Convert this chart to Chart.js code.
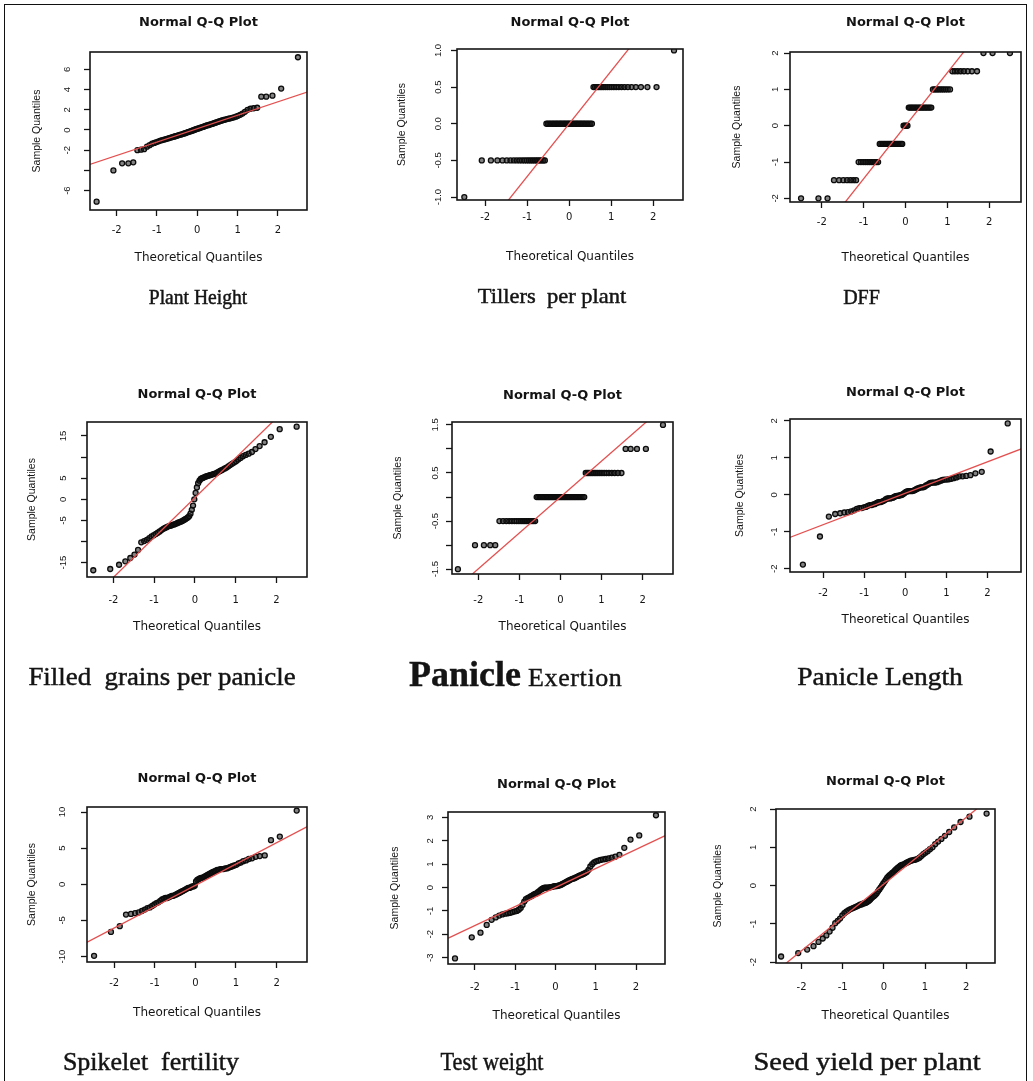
<!DOCTYPE html>
<html><head><meta charset="utf-8">
<script src="https://cdn.jsdelivr.net/npm/chart.js@4.4.1/dist/chart.umd.min.js"></script>
<style>
html,body{margin:0;padding:0;background:#fff;}
#page{position:relative;width:1033px;height:1081px;overflow:hidden;background:#fff;}
#page canvas{position:absolute;left:0;top:0;}
.frame{position:absolute;left:4px;top:4px;width:1021px;height:1200px;border:1.5px solid #111;border-bottom:none;}
.cap{position:absolute;font-family:'Liberation Serif','Times New Roman',serif;color:#141414;white-space:pre;transform-origin:50% 50%;-webkit-text-stroke:0.45px #141414;}
.capx{position:absolute;font-family:'Liberation Serif','Times New Roman',serif;color:#141414;white-space:pre;line-height:36px;-webkit-text-stroke:0.4px #141414;}
</style></head>
<body><div id="page"><div class="frame"></div></div>
<script>
// ---------- data ----------
const theoreticalQuantiles = [-2.496,-2.080,-1.863,-1.709,-1.587,-1.485,-1.397,-1.318,-1.247,-1.181,-1.120,-1.064,-1.010,-0.959,-0.911,-0.865,-0.820,-0.776,-0.735,-0.694,-0.655,-0.616,-0.579,-0.542,-0.506,-0.471,-0.436,-0.402,-0.368,-0.335,-0.302,-0.270,-0.237,-0.205,-0.174,-0.142,-0.110,-0.078,-0.047,-0.016,0.016,0.047,0.078,0.110,0.142,0.174,0.205,0.237,0.270,0.302,0.335,0.368,0.402,0.436,0.471,0.506,0.542,0.579,0.616,0.655,0.694,0.735,0.776,0.820,0.865,0.911,0.959,1.010,1.064,1.120,1.181,1.247,1.318,1.397,1.485,1.587,1.709,1.863,2.080,2.496];

const plantHeight = [-7.1,-4.0,-3.3,-3.3,-3.2,-2.0,-1.95,-1.9,-1.65,-1.5,-1.35,-1.28,-1.2,-1.12,-1.05,-1.0,-0.95,-0.9,-0.85,-0.8,-0.75,-0.7,-0.66,-0.62,-0.58,-0.53,-0.48,-0.45,-0.4,-0.36,-0.32,-0.28,-0.22,-0.18,-0.13,-0.1,-0.05,0.0,0.05,0.1,0.13,0.18,0.22,0.26,0.3,0.35,0.4,0.45,0.48,0.52,0.56,0.6,0.65,0.7,0.75,0.8,0.85,0.9,0.95,1.0,1.03,1.08,1.12,1.15,1.2,1.25,1.32,1.4,1.5,1.62,1.8,2.0,2.1,2.15,2.2,3.3,3.3,3.4,4.1,7.2];

const tillersPerPlant = [-1.0,-0.5,-0.5,-0.5,-0.5,-0.5,-0.5,-0.5,-0.5,-0.5,-0.5,-0.5,-0.5,-0.5,-0.5,-0.5,-0.5,-0.5,-0.5,-0.5,-0.5,-0.5,-0.5,0,0,0,0,0,0,0,0,0,0,0,0,0,0,0,0,0,0,0,0,0,0,0,0,0,0,0,0,0,0,0,0,0,0,0.5,0.5,0.5,0.5,0.5,0.5,0.5,0.5,0.5,0.5,0.5,0.5,0.5,0.5,0.5,0.5,0.5,0.5,0.5,0.5,0.5,0.5,1.0];

const daysToFlowering = [-2,-2,-2,-1.5,-1.5,-1.5,-1.5,-1.5,-1.5,-1.5,-1,-1,-1,-1,-1,-1,-1,-1,-1,-1,-1,-0.5,-0.5,-0.5,-0.5,-0.5,-0.5,-0.5,-0.5,-0.5,-0.5,-0.5,-0.5,-0.5,-0.5,-0.5,-0.5,-0.5,0,0,0,0,0.5,0.5,0.5,0.5,0.5,0.5,0.5,0.5,0.5,0.5,0.5,0.5,0.5,0.5,0.5,0.5,0.5,1,1,1,1,1,1,1,1,1,1,1.5,1.5,1.5,1.5,1.5,1.5,1.5,1.5,2,2,2];

const filledGrains = [-16.8,-16.5,-15.5,-14.7,-13.9,-13.1,-12.0,-10.2,-9.9,-9.6,-9.2,-8.8,-8.5,-8.2,-7.9,-7.6,-7.3,-7.0,-6.8,-6.6,-6.4,-6.3,-6.2,-6.05,-5.95,-5.8,-5.65,-5.5,-5.4,-5.25,-5.1,-4.9,-4.7,-4.5,-4.3,-4.0,-3.4,-2.5,-1.5,0.0,1.5,2.8,3.8,4.4,4.8,5.0,5.1,5.25,5.4,5.5,5.6,5.7,5.8,5.9,6.0,6.1,6.3,6.5,6.7,6.9,7.1,7.3,7.5,7.8,8.1,8.4,8.7,9.0,9.4,9.8,10.2,10.5,10.8,11.2,11.9,12.6,13.5,14.8,16.6,17.2];

const panicleExertion = [-1.5,-1,-1,-1,-1,-0.5,-0.5,-0.5,-0.5,-0.5,-0.5,-0.5,-0.5,-0.5,-0.5,-0.5,-0.5,-0.5,-0.5,-0.5,-0.5,-0.5,0,0,0,0,0,0,0,0,0,0,0,0,0,0,0,0,0,0,0,0,0,0,0,0,0,0,0,0,0,0,0,0,0,0,0,0,0.5,0.5,0.5,0.5,0.5,0.5,0.5,0.5,0.5,0.5,0.5,0.5,0.5,0.5,0.5,0.5,0.5,1,1,1,1,1.5];

const panicleLength = [-1.89,-1.13,-0.59,-0.52,-0.5,-0.48,-0.47,-0.45,-0.42,-0.38,-0.36,-0.36,-0.34,-0.33,-0.3,-0.28,-0.28,-0.26,-0.25,-0.22,-0.2,-0.2,-0.19,-0.17,-0.15,-0.12,-0.1,-0.1,-0.1,-0.09,-0.08,-0.06,-0.04,-0.03,-0.03,-0.02,-0.01,0.0,0.02,0.05,0.08,0.09,0.1,0.1,0.1,0.1,0.11,0.13,0.15,0.17,0.18,0.2,0.2,0.2,0.22,0.25,0.27,0.3,0.32,0.33,0.33,0.33,0.34,0.36,0.38,0.4,0.41,0.41,0.42,0.43,0.45,0.47,0.5,0.5,0.51,0.53,0.58,0.62,1.17,1.93];

const spikeletFertility = [-9.9,-6.6,-5.8,-4.2,-4.1,-4.0,-3.9,-3.7,-3.5,-3.3,-3.2,-3.0,-2.8,-2.6,-2.5,-2.3,-2.1,-2.0,-1.9,-1.9,-1.8,-1.7,-1.6,-1.6,-1.5,-1.4,-1.3,-1.2,-1.1,-1.0,-0.9,-0.8,-0.7,-0.6,-0.5,-0.5,-0.4,-0.3,-0.3,-0.2,0.4,0.6,0.7,0.8,0.9,0.9,1.0,1.1,1.2,1.3,1.4,1.5,1.6,1.7,1.8,1.9,2.0,2.0,2.1,2.1,2.1,2.2,2.2,2.3,2.4,2.5,2.6,2.7,2.9,3.0,3.2,3.3,3.5,3.6,3.8,3.9,4.0,6.1,6.6,10.2];

const testWeight = [-3.03,-2.13,-1.93,-1.6,-1.38,-1.28,-1.2,-1.15,-1.12,-1.1,-1.08,-1.05,-1.02,-1.0,-0.95,-0.88,-0.75,-0.6,-0.5,-0.45,-0.42,-0.38,-0.35,-0.3,-0.27,-0.25,-0.2,-0.15,-0.1,-0.06,-0.03,-0.01,0.0,0.0,0.0,0.01,0.02,0.03,0.05,0.06,0.06,0.07,0.08,0.1,0.12,0.15,0.18,0.21,0.24,0.27,0.3,0.33,0.36,0.38,0.4,0.43,0.46,0.5,0.52,0.55,0.58,0.62,0.66,0.75,0.9,1.0,1.08,1.12,1.15,1.18,1.2,1.22,1.25,1.28,1.32,1.4,1.7,2.05,2.23,3.09];

const seedYield = [-1.85,-1.76,-1.67,-1.58,-1.47,-1.38,-1.3,-1.2,-1.1,-0.98,-0.92,-0.86,-0.78,-0.72,-0.68,-0.65,-0.62,-0.6,-0.58,-0.56,-0.54,-0.52,-0.5,-0.49,-0.47,-0.46,-0.45,-0.43,-0.4,-0.37,-0.33,-0.3,-0.27,-0.24,-0.2,-0.15,-0.1,-0.05,0.0,0.05,0.1,0.15,0.2,0.24,0.27,0.3,0.33,0.36,0.4,0.43,0.46,0.49,0.52,0.54,0.55,0.57,0.59,0.61,0.63,0.65,0.66,0.67,0.68,0.7,0.73,0.77,0.82,0.86,0.9,0.95,1.0,1.08,1.15,1.22,1.3,1.4,1.52,1.66,1.8,1.88];

const panelCaptions = ['Plant Height','Tillers  per plant','DFF','Filled  grains per panicle','Panicle Exertion','Panicle Length','Spikelet  fertility','Test weight','Seed yield per plant'];
const sampleSeries = [plantHeight, tillersPerPlant, daysToFlowering, filledGrains, panicleExertion, panicleLength, spikeletFertility, testWeight, seedYield];

// reference (qq) line: sample value at x = -3 and x = 3
const qqLineX = [-3, 3];
const qqLineEnds = [[-3.86,4.12],[-2.16,2.16],[-4.38,4.38],[-27.9,28.66],[-2.24,2.24],[-1.235,1.315],[-9.0,8.7],[-2.44,2.44],[-2.57,2.65]];

const xTickValues = [-2,-1,0,1,2];
const xTickLabels = ['-2','-1','0','1','2'];
const yTickValues = [[-6,-4,-2,0,2,4,6],[-1,-0.5,0,0.5,1],[-2,-1,0,1,2],[-15,-10,-5,0,5,10,15],[-1.5,-1,-0.5,0,0.5,1,1.5],[-2,-1,0,1,2],[-10,-5,0,5,10],[-3,-2,-1,0,1,2,3],[-2,-1,0,1,2]];
const yTickLabels = [['-6','','-2','0','2','4','6'],['-1.0','-0.5','0.0','0.5','1.0'],['-2','-1','0','1','2'],['-15','','-5','0','5','','15'],['-1.5','','-0.5','','0.5','','1.5'],['-2','-1','0','1','2'],['-10','-5','0','5','10'],['-3','-2','-1','0','1','2','3'],['-2','-1','0','1','2']];
const xRanges = [[-2.66,2.72],[-2.67,2.71],[-2.76,2.76],[-2.65,2.75],[-2.64,2.74],[-2.81,2.82],[-2.67,2.75],[-2.67,2.72],[-2.62,2.70]];
const yRanges = [[-7.92,7.72],[-1.04,1.02],[-2.1,2.03],[-18.4,18.3],[-1.6,1.56],[-2.09,2.05],[-10.76,10.7],[-3.27,3.23],[-2.02,2.0]];

// ---------- layout (pixel geometry and caption styling of each panel) ----------
const geom = [
 {box:[90,52,307,210], titleY:23, xTickY:230, xTitleY:258, yTitleX:37, yTickX:67, cap:[198,304], capSize:20, capSx:0.98},
 {box:[457,49,683,200], titleY:23, xTickY:217, xTitleY:257, yTitleX:402, yTickX:438, cap:[551.5,304], capSize:21, capSx:1.07},
 {box:[790,52,1021,202], titleY:23, xTickY:222, xTitleY:258, yTitleX:737, yTickX:775, cap:[861.5,304], capSize:20, capSx:1.0},
 {box:[87,422,307,577], titleY:395, xTickY:600, xTitleY:627, yTitleX:32, yTickX:63, cap:[162,685], capSize:25, capSx:1.075},
 {box:[452,422,673,574], titleY:396, xTickY:600, xTitleY:627, yTitleX:398, yTickX:435, cap:[409,686], capSize:26, capSx:1.0},
 {box:[790,419,1021,572], titleY:393, xTickY:593, xTitleY:620, yTitleX:740, yTickX:774, cap:[879.5,685], capSize:25, capSx:1.10},
 {box:[87,807,307,962], titleY:779, xTickY:983, xTitleY:1013, yTitleX:32, yTickX:62, cap:[151,1070], capSize:25, capSx:1.04},
 {box:[448,812,665,964], titleY:785, xTickY:987, xTitleY:1016, yTitleX:395, yTickX:430, cap:[492,1070], capSize:25, capSx:0.89},
 {box:[776,809,995,963], titleY:782, xTickY:987, xTitleY:1016, yTitleX:718, yTickX:753, cap:[866.5,1070], capSize:25, capSx:1.14}
];

const W = 1033, H = 1081;
const FONT_H = "'DejaVu Sans', sans-serif";
const FONT_V = "'Liberation Sans', Arial, sans-serif";
const INK = '#141414';
const TL = 6;
const X_TICK_SIZE = 10, Y_TICK_SIZE = 9.5, X_TITLE_SIZE = 12, Y_TITLE_SIZE = 10.5, TITLE_SIZE = 13;

const mctx = document.createElement('canvas').getContext('2d');
function widest(labels, size, family){
  mctx.font = size + 'px ' + family;
  return Math.max(...labels.map(l => mctx.measureText(l).width));
}

const boxPlugin = {
  id: 'plotBox',
  afterDatasetsDraw(chart){
    const a = chart.chartArea, c = chart.ctx;
    c.save(); c.strokeStyle = INK; c.lineWidth = 1.6;
    c.strokeRect(a.left, a.top, a.right - a.left, a.bottom - a.top);
    c.restore();
  }
};

const page = document.getElementById('page');

function makePanel(i){
  const g = geom[i];
  const [L, T, R, B] = g.box;
  const canvas = document.createElement('canvas');
  canvas.width = W; canvas.height = H;
  canvas.style.width = W + 'px'; canvas.style.height = H + 'px';
  page.appendChild(canvas);

  const titleLH = TITLE_SIZE * 1.2, xTitleLH = X_TITLE_SIZE * 1.2, yTitleLH = Y_TITLE_SIZE * 1.2;
  const Wy = L - g.yTitleX + yTitleLH / 2;
  const Hx = g.xTitleY - B + xTitleLH / 2;
  const yW = widest(yTickLabels[i], Y_TICK_SIZE, FONT_V);
  const yPad = (L - g.yTickX) - TL - yW / 2;
  const xPad = (g.xTickY - B) - TL - X_TICK_SIZE * 1.2 / 2;

  const pts = theoreticalQuantiles.map((xv, k) => ({x: xv, y: sampleSeries[i][k]}));
  const line = qqLineX.map((xv, k) => ({x: xv, y: qqLineEnds[i][k]}));

  new Chart(canvas, {
    type: 'scatter',
    data: { datasets: [
      { data: line, showLine: true, borderColor: 'rgb(228,80,80)', borderWidth: 1.3, pointRadius: 0, fill: false },
      { data: pts, pointRadius: 2.5, pointBorderWidth: 1.3, pointBorderColor: '#0c0c0c', pointBackgroundColor: 'rgba(30,30,30,0.55)' }
    ]},
    options: {
      responsive: false, animation: false, events: [],
      layout: { padding: { left: L - Wy, right: W - R, top: g.titleY - titleLH / 2, bottom: H - B - Hx } },
      plugins: {
        legend: { display: false }, tooltip: { enabled: false },
        title: { display: true, text: 'Normal Q-Q Plot', fullSize: false, color: INK,
                 font: { family: FONT_H, size: TITLE_SIZE, weight: 'bold' },
                 padding: { top: 0, bottom: T - g.titleY - titleLH / 2 } }
      },
      scales: {
        x: {
          type: 'linear', position: 'bottom', min: xRanges[i][0], max: xRanges[i][1],
          afterBuildTicks: s => { s.ticks = xTickValues.map(v => ({ value: v })); },
          afterFit: s => { s.height = Hx; },
          ticks: { callback: (v, idx) => xTickLabels[idx], padding: xPad, autoSkip: false, maxRotation: 0, minRotation: 0,
                   font: { family: FONT_H, size: X_TICK_SIZE }, color: INK },
          grid: { drawOnChartArea: false, tickLength: TL, color: INK, tickWidth: 1.3 },
          border: { display: false },
          title: { display: true, text: 'Theoretical Quantiles', color: INK, font: { family: FONT_H, size: X_TITLE_SIZE }, padding: { top: 0, bottom: 0 } }
        },
        y: {
          type: 'linear', position: 'left', min: yRanges[i][0], max: yRanges[i][1],
          afterBuildTicks: s => { s.ticks = yTickValues[i].map(v => ({ value: v })); },
          afterFit: s => { s.width = Wy; },
          ticks: { callback: (v, idx) => yTickLabels[i][idx], padding: yPad, autoSkip: false, minRotation: 90, maxRotation: 90,
                   crossAlign: 'center', font: { family: FONT_V, size: Y_TICK_SIZE }, color: INK },
          grid: { drawOnChartArea: false, tickLength: TL, color: INK, tickWidth: 1.3 },
          border: { display: false },
          title: { display: true, text: 'Sample Quantiles', color: INK, font: { family: FONT_V, size: Y_TITLE_SIZE }, padding: { top: 0, bottom: 0 } }
        }
      }
    },
    plugins: [boxPlugin]
  });

  // caption under the panel
  if (i === 4) {
    const d = document.createElement('div');
    d.className = 'capx';
    d.style.left = g.cap[0] + 'px';
    d.style.top = (g.cap[1] - 30) + 'px';
    const [w1, w2] = panelCaptions[i].split(' ');
    d.innerHTML = '<span style="font-size:36px;font-weight:bold;">' + w1 + '</span><span style="font-size:' + g.capSize + 'px;letter-spacing:0.6px;"> ' + w2 + '</span>';
    page.appendChild(d);
  } else {
    const d = document.createElement('div');
    d.className = 'cap';
    d.textContent = panelCaptions[i];
    d.style.fontSize = g.capSize + 'px';
    d.style.lineHeight = g.capSize + 'px';
    d.style.left = g.cap[0] + 'px';
    d.style.top = (g.cap[1] - 0.8375 * g.capSize) + 'px';
    d.style.transform = 'translateX(-50%) scaleX(' + g.capSx + ')';
    page.appendChild(d);
  }
}

for (let i = 0; i < 9; i++) makePanel(i);
</script>
</body></html>
